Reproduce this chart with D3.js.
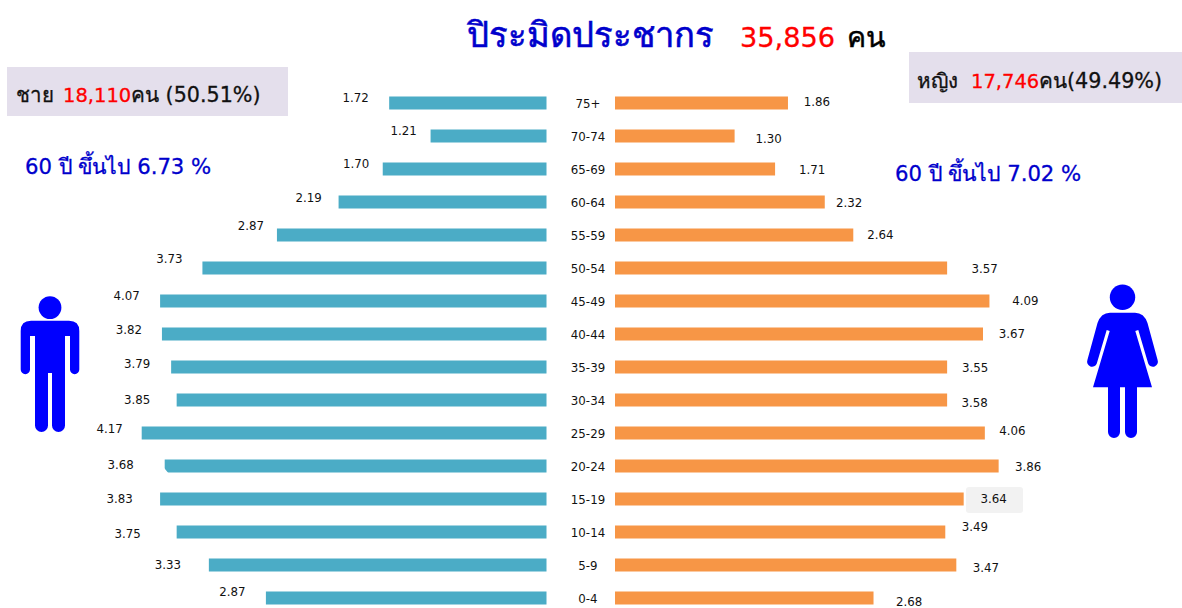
<!DOCTYPE html>
<html>
<head>
	<meta charset="utf-8">
	<title>Population pyramid</title>
	<script src="https://d3js.org/d3.v7.min.js"></script>
	<style>
		html, body {
			margin: 0;
			height: 100%;
			background: #fff;
			overflow: hidden;
		}
		text {
			font-family: "DejaVu Sans", "Noto Sans", sans-serif;
		}
	</style>
</head>
<body>
	<svg id="svg"></svg>
	<script>
		const ageGroups = ["75+", "70-74", "65-69", "60-64", "55-59", "50-54", "45-49", "40-44", "35-39", "30-34", "25-29", "20-24", "15-19", "10-14", "5-9", "0-4"];

		// printed percentages
		const maleLabels = ["1.72", "1.21", "1.70", "2.19", "2.87", "3.73", "4.07", "3.82", "3.79", "3.85", "4.17", "3.68", "3.83", "3.75", "3.33", "2.87"];
		const femaleLabels = ["1.86", "1.30", "1.71", "2.32", "2.64", "3.57", "4.09", "3.67", "3.55", "3.58", "4.06", "3.86", "3.64", "3.49", "3.47", "2.68"];

		// bar lengths as drawn, they do not follow the printed numbers exactly
		const maleBars = [1.71, 1.26, 1.78, 2.26, 2.93, 3.74, 4.20, 4.18, 4.08, 4.02, 4.40, 4.15, 4.20, 4.02, 3.67, 3.05];
		const femaleBars = [1.88, 1.30, 1.74, 2.28, 2.59, 3.61, 4.07, 4.00, 3.61, 3.61, 4.02, 4.17, 3.79, 3.59, 3.71, 2.81];

		// the labels were moved by hand in the original
		const maleNudge = [[-33.5, -5], [-27, -5], [-26.5, -5], [-30, -4], [-26, -9], [-33, -9], [-33.5, -5], [-33, -4], [-34, -3], [-39.5, 0], [-32, -4], [-44, -1], [-40.5, 0], [-49, 2], [-41, 0], [-33.5, -6]];
		const femaleNudge = [[29, -1], [34, 3], [37, 1], [24.5, 1], [27, 0], [37.5, 1], [36, 0], [29, 0], [28, 1], [27.5, 3], [27.5, -2], [29.5, 1], [30, 0], [29.5, -5], [29.5, 3], [35.5, 4]];

		const width = 1182;
		const height = 608;

		const svg = d3.select("#svg")
		.attr("width", width)
		.attr("height", height)
		.style("display", "block");

		const scaleY = d3.scaleBand()
		.domain(ageGroups)
		.range([86.5, 614.5])
		.paddingInner(20 / 33)
		.paddingOuter(10 / 33);

		const scaleMale = d3.scaleLinear().domain([0, 4.5]).range([546.5, 132.5]);
		const scaleFemale = d3.scaleLinear().domain([0, 4.5]).range([615, 1029]);

		// grey boxes behind the totals
		svg.append("rect").attr("x", 7).attr("y", 67).attr("width", 281).attr("height", 49).attr("fill", "#e4dfec");
		svg.append("rect").attr("x", 909).attr("y", 52).attr("width", 273).attr("height", 51).attr("fill", "#e4dfec");

		// male bars
		svg.append("g")
		.selectAll("rect")
		.data(maleBars)
		.enter()
		.append("rect")
		.attr("x", d => scaleMale(d))
		.attr("y", (d, i) => scaleY(ageGroups[i]))
		.attr("width", d => scaleMale(0) - scaleMale(d))
		.attr("height", scaleY.bandwidth())
		.attr("fill", "#4bacc6");

		// the 20-24 bar has a clipped corner
		const notchX = scaleMale(maleBars[11]);
		const notchY = scaleY("20-24") + scaleY.bandwidth();
		svg.append("path")
		.attr("d", `M${notchX - 1},${notchY - 5}L${notchX + 4},${notchY + 1}L${notchX - 1},${notchY + 1}Z`)
		.attr("fill", "#fff");

		// female bars
		svg.append("g")
		.selectAll("rect")
		.data(femaleBars)
		.enter()
		.append("rect")
		.attr("x", scaleFemale(0))
		.attr("y", (d, i) => scaleY(ageGroups[i]))
		.attr("width", d => scaleFemale(d) - scaleFemale(0))
		.attr("height", scaleY.bandwidth())
		.attr("fill", "#f79646");

		// age labels
		const axis = svg.append("g")
		.attr("transform", "translate(588, 1)")
		.call(d3.axisLeft(scaleY).tickSize(0).tickPadding(0));
		axis.select(".domain").remove();
		axis.selectAll("text")
		.attr("x", 0)
		.attr("text-anchor", "middle")
		.attr("font-size", 11.8)
		.attr("font-family", null)
		.attr("fill", "#111");

		// grey highlight behind 3.64
		svg.append("rect")
		.attr("x", 966).attr("y", 487).attr("width", 57).attr("height", 26).attr("rx", 3)
		.attr("fill", "#f2f2f2");

		svg.append("g")
		.selectAll("text")
		.data(maleLabels)
		.enter()
		.append("text")
		.attr("x", (d, i) => scaleMale(maleBars[i]) + maleNudge[i][0])
		.attr("y", (d, i) => scaleY(ageGroups[i]) + scaleY.bandwidth() / 2 + maleNudge[i][1])
		.attr("dy", "0.36em")
		.attr("text-anchor", "middle")
		.attr("font-size", 11.8)
		.attr("fill", "#111")
		.text(d => d);

		svg.append("g")
		.selectAll("text")
		.data(femaleLabels)
		.enter()
		.append("text")
		.attr("x", (d, i) => scaleFemale(femaleBars[i]) + femaleNudge[i][0])
		.attr("y", (d, i) => scaleY(ageGroups[i]) + scaleY.bandwidth() / 2 + femaleNudge[i][1])
		.attr("dy", "0.36em")
		.attr("text-anchor", "middle")
		.attr("font-size", 11.8)
		.attr("fill", "#111")
		.text(d => d);

		// thin stroke because the original text is a bit heavier
		function addText(x, y, size, str, color, weight) {
			return svg.append("text")
			.attr("x", x)
			.attr("y", y)
			.attr("font-size", size)
			.attr("fill", color)
			.attr("stroke", color)
			.attr("stroke-width", weight || 0.3)
			.text(str);
		}

		const blue = "#0000cc";
		addText(467, 47, 34.6, "ปิระมิดประชากร", blue, 0.6);
		addText(740, 47, 27.2, "35,856", "#ff0000");
		addText(847, 47, 28.5, "คน", "#000", 0.5);
		addText(16, 102, 20.5, "ชาย", "#111");
		addText(63, 102, 19.5, "18,110", "#ff0000");
		addText(131, 102, 20.7, "คน (50.51%)", "#111");
		addText(917, 88, 20.5, "หญิง", "#111");
		addText(971, 88, 19.5, "17,746", "#ff0000");
		addText(1039, 88, 20.7, "คน(49.49%)", "#111");
		addText(25, 174, 21.2, "60 ปี ขึ้นไป 6.73 %", blue);
		addText(895, 181, 21.2, "60 ปี ขึ้นไป 7.02 %", blue);

		// man icon
		const man = svg.append("g").attr("fill", "#0000ff");
		man.append("circle").attr("cx", 50).attr("cy", 307.6).attr("r", 11.4);
		man.append("path").attr("d", "M31,320.7H69Q79.3,320.7 79.3,331V369.5A4.6,4.6 0 0 1 70,369.5V336H65V425.5A6.5,6.5 0 0 1 52,425.5V373H48V425.5A6.5,6.5 0 0 1 35,425.5V336H30V369.5A4.6,4.6 0 0 1 20.7,369.5V331Q20.7,320.7 31,320.7Z");

		// woman icon
		const woman = svg.append("g").attr("fill", "#0000ff");
		woman.append("circle").attr("cx", 1122.5).attr("cy", 297.3).attr("r", 12.7);
		woman.append("path").attr("d", "M1110,312.7H1135Q1144,312.7 1147.5,323L1157.6,360A5,5 0 0 1 1148.2,363.5L1138.3,330L1135.3,331L1152,387.3H1137V432A6,6 0 0 1 1125,432V387.3H1120V432A6,6 0 0 1 1108,432V387.3H1093L1109.7,331L1106.7,330L1096.8,363.5A5,5 0 0 1 1087.4,360L1097.5,323Q1101,312.7 1110,312.7Z");
	</script>
</body>
</html>
